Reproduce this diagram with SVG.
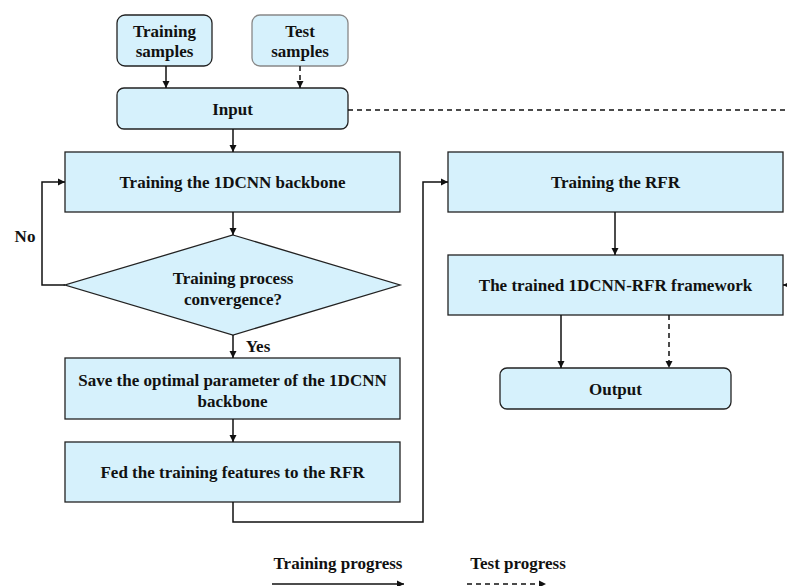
<svg xmlns="http://www.w3.org/2000/svg" width="787" height="586" viewBox="0 0 787 586">
<style>
.box{fill:#d6f1fc;stroke:#222;stroke-width:1.3}
.gbox{fill:#d6f1fc;stroke:#888;stroke-width:1.3}
.t{font-weight:bold;font-size:17px;fill:#111;text-anchor:middle}
.ln{fill:none;stroke:#111;stroke-width:1.5}
.dl{fill:none;stroke:#111;stroke-width:1.5;stroke-dasharray:5,4}
</style>
<defs>
<marker id="ah" markerWidth="8" markerHeight="8" refX="7" refY="4" orient="auto" markerUnits="userSpaceOnUse">
<path d="M0,0.5 L7,4 L0,7.5 Z" fill="#111"/>
</marker>
</defs>
<rect width="787" height="586" fill="#fff"/>
<g class="t" font-family="Liberation Serif, Times New Roman, serif">
<g id="train-samples"><rect class="box" x="117" y="15" width="95" height="51" rx="8"/><text x="164.5" y="37">Training</text><text x="164.5" y="57">samples</text></g>
<g id="test-samples"><rect class="gbox" x="252" y="15" width="96" height="51" rx="8"/><text x="300" y="37">Test</text><text x="300" y="57">samples</text></g>
<g id="input"><rect class="box" x="117" y="88" width="231" height="41" rx="7"/><text x="232.5" y="115">Input</text></g>
<g id="train-cnn"><rect class="box" x="65" y="152" width="335" height="60"/><text x="232.5" y="188">Training the 1DCNN backbone</text></g>
<g id="converge"><polygon class="box" points="233,235 400,285 233,335 65,285"/><text x="233" y="284">Training process</text><text x="233" y="305">convergence?</text></g>
<g id="save"><rect class="box" x="65" y="358" width="335" height="61"/><text x="232.5" y="386">Save the optimal parameter of the 1DCNN</text><text x="232.5" y="407">backbone</text></g>
<g id="fed"><rect class="box" x="65" y="442" width="335" height="60"/><text x="232.5" y="478">Fed the training features to the RFR</text></g>
<g id="train-rfr"><rect class="box" x="448" y="152" width="335" height="60"/><text x="615.5" y="188">Training the RFR</text></g>
<g id="framework"><rect class="box" x="448" y="255" width="335" height="60"/><text x="615.5" y="291">The trained 1DCNN-RFR framework</text></g>
<g id="output"><rect class="box" x="500" y="368" width="231" height="41" rx="7"/><text x="615.5" y="395">Output</text></g>
<text x="25" y="242">No</text>
<text x="258" y="352">Yes</text>
<text x="338" y="569">Training progress</text>
<text x="518" y="569">Test progress</text>
</g>
<g id="connectors">
<line class="ln" x1="166" y1="66" x2="166" y2="88" marker-end="url(#ah)"/>
<line class="dl" x1="300" y1="66" x2="300" y2="88" marker-end="url(#ah)"/>
<line class="dl" x1="348" y1="110" x2="787" y2="110"/>
<line class="ln" x1="787" y1="285" x2="783" y2="285" marker-end="url(#ah)"/>
<line class="ln" x1="233" y1="129" x2="233" y2="152" marker-end="url(#ah)"/>
<line class="ln" x1="233" y1="212" x2="233" y2="235" marker-end="url(#ah)"/>
<polyline class="ln" points="65,285 42,285 42,182 65,182" marker-end="url(#ah)"/>
<line class="ln" x1="233" y1="335" x2="233" y2="358" marker-end="url(#ah)"/>
<line class="ln" x1="233" y1="419" x2="233" y2="442" marker-end="url(#ah)"/>
<polyline class="ln" points="233,502 233,522 423,522 423,182 448,182" marker-end="url(#ah)"/>
<line class="ln" x1="615" y1="212" x2="615" y2="255" marker-end="url(#ah)"/>
<line class="ln" x1="561" y1="315" x2="561" y2="368" marker-end="url(#ah)"/>
<line class="dl" x1="669" y1="315" x2="669" y2="368" marker-end="url(#ah)"/>
<line class="ln" x1="272" y1="584" x2="404" y2="584" marker-end="url(#ah)"/>
<line class="dl" x1="467" y1="584" x2="546" y2="584" marker-end="url(#ah)"/>
</g>
</svg>
